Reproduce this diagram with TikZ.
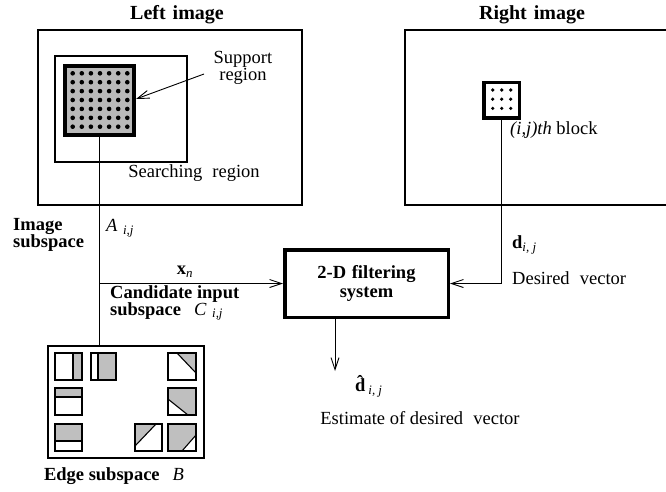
\documentclass[tikz,border=0pt]{standalone}
\usepackage{fontspec}
\setmainfont{Liberation Serif}
\usetikzlibrary{arrows.meta}
\begin{document}
\begin{tikzpicture}[x=1pt,y=-1pt,
  every node/.style={font=\fontsize{18.5}{17}\selectfont, inner sep=0pt},
  titlefont/.style={font=\fontsize{20}{20}\selectfont\bfseries},
  frame/.style={draw, line width=1.5pt},
  thickframe/.style={draw, line width=4pt},
  filterbox/.style={draw, line width=3.5pt, minimum width=163.5pt, minimum height=67.5pt, align=center},
  edgebox/.style={draw, line width=2pt, minimum width=156pt, minimum height=112pt},
  conn/.style={line width=0.9pt},
  arr/.style={conn, -{Straight Barb[length=12pt,width=8pt]}},
  sq/.style={draw, line width=1.1pt},
  shade/.style={fill=gray!50},
  dot/.style={fill=black}
]
\useasboundingbox (0,0) rectangle (666,491);

% Left image
\draw[frame] (38,30) rectangle (302,205);
\draw[frame] (55,56) rectangle (187,162);
\node[thickframe, fill=gray!55, minimum size=69pt] (sup) at (99.5,100) {};
\foreach \i in {0,...,6} \foreach \j in {0,...,6}
  \fill[dot] (72.7+9.1*\i, 73.3+8.9*\j) circle (2.3pt);
\node[titlefont] (title1) at (177,15) {Left\hspace{0.35em}image};
\node[align=center] (suptxt) at (243,68) {Support\\region};
\node (srch) at (194,173) {Searching\hspace{0.3em} region};
\draw[arr] (204,74) -- (sup.east |- 0,99);

% Right image
\draw[frame] (405,30) rectangle (668,205);
\node[thickframe, line width=3.5pt, fill=white, minimum size=35.5pt] (blk) at (501.5,100) {};
\foreach \i in {0,1,2} \foreach \j in {0,1,2}
  \fill[dot] (492.7+9*\i, 90+9.2*\j) circle (1.8pt);
\node[titlefont] (title2) at (532,15) {Right\hspace{0.35em}image};
\node[anchor=west] (blktxt) at (510,130) {\textit{(i,j)th} block};

% filtering system
\node[filterbox] (filt) at (366.5,283.5) {\textbf{2-D\hspace{0.3em}filtering}\\[2pt]\textbf{system}};

% Edge subspace box
\node[edgebox] (edge) at (126,402) {};

% connectors
\draw[conn] (sup.south) -- (sup.south |- edge.north);
\draw[arr] (sup.south |- filt.west) -- (filt.west);
\draw[arr] (blk.south) |- (filt.east);
\draw[arr] (filt.south -| 335,0) -- (335,371);

% labels
\node[anchor=west, align=left] (imgsub) at (13,235) {\textbf{Image}\\\textbf{subspace}};
\node[anchor=west] (alab) at (106,228) {\textit{A}\hspace{0.3em}\textsubscript{\textit{i,j}}};
\node (xlab) at (185,272) {\textbf{x}\textsubscript{\textit{n}}};
\node[anchor=west, align=left] (cand) at (110,303) {\textbf{Candidate input}\\\textbf{subspace}\hspace{0.7em}\textit{C}\hspace{0.3em}\textsubscript{\textit{i,j}}};
\node (edgelab) at (114,476) {\textbf{Edge subspace}\hspace{0.7em}\textit{B}};
\node[anchor=west] (dlab) at (512,245) {\textbf{d}\textsubscript{\textit{i, j}}};
\node[anchor=west] (dtxt) at (512,278) {Desired\hspace{0.3em} vector};
\node[anchor=west] (dhat) at (355,386) {\textbf{\^{d}}\textsubscript{\textit{i, j}}};
\node (esttxt) at (420,418) {Estimate of desired\hspace{0.3em} vector};

% edge squares
% row 1
\fill[shade] (73,353) rectangle (82,380);
\draw[sq] (55,353) rectangle (82,380); \draw[sq] (73,353) -- (73,380);
\fill[shade] (98,353) rectangle (116,380);
\draw[sq] (91,353) rectangle (116,380); \draw[sq] (98,353) -- (98,380);
\fill[shade] (177,353) -- (196,353) -- (196,373) -- cycle;
\draw[sq] (168,353) rectangle (196,380); \draw[sq] (177,353) -- (196,373);
% row 2
\fill[shade] (55,388) rectangle (82,397);
\draw[sq] (55,388) rectangle (82,415); \draw[sq] (55,397) -- (82,397);
\fill[shade] (168,388) -- (196,388) -- (196,415) -- (188,415) -- (168,399) -- cycle;
\draw[sq] (168,388) rectangle (196,415); \draw[sq] (168,399) -- (188,415);
% row 3
\fill[shade] (55,424) rectangle (82,441);
\draw[sq] (55,424) rectangle (82,451); \draw[sq] (55,441) -- (82,441);
\fill[shade] (135,424) -- (156,424) -- (135,446) -- cycle;
\draw[sq] (135,424) rectangle (162,451); \draw[sq] (156,424) -- (135,446);
\fill[shade] (168,424) -- (196,424) -- (196,435) -- (182,451) -- (168,451) -- cycle;
\draw[sq] (168,424) rectangle (196,451); \draw[sq] (196,435) -- (182,451);
\end{tikzpicture}
\end{document}
